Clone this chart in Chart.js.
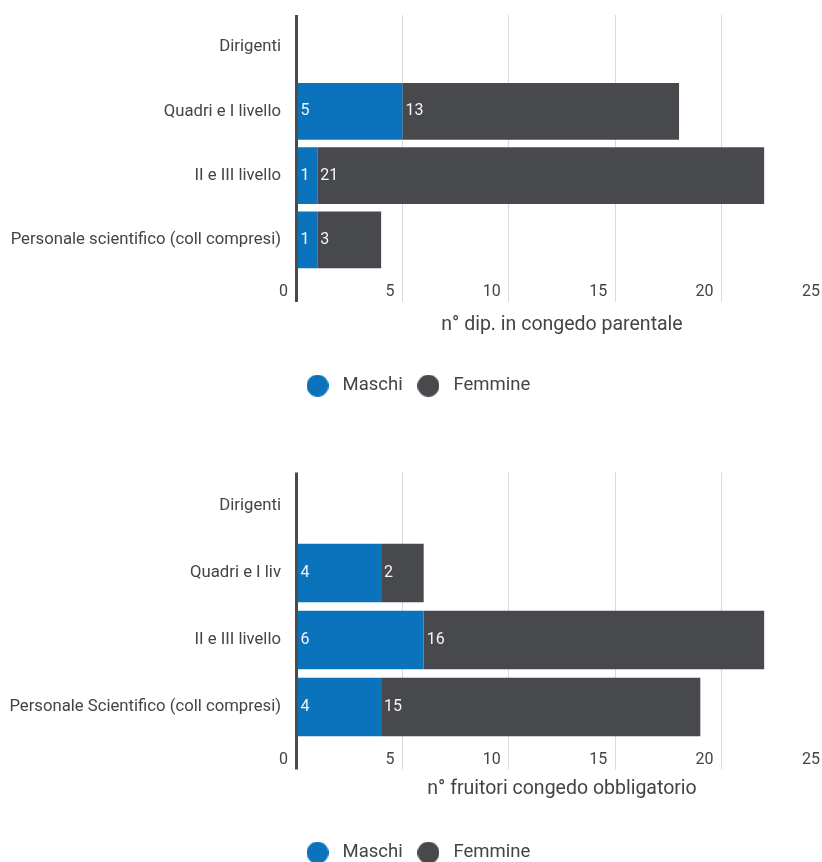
<!DOCTYPE html>
<html><head><meta charset="utf-8">
<script src="https://cdn.jsdelivr.net/npm/chart.js@4/dist/chart.umd.min.js"></script>
<style>
html,body{margin:0;padding:0;background:#fff;overflow:hidden;}
#wrap{position:relative;width:822px;height:862px;overflow:hidden;background:#fff;}
canvas{position:absolute;left:0;}
#c1{top:0;}
#c2{top:460px;}
</style></head><body>
<div id="wrap"><canvas id="c1"></canvas><canvas id="c2"></canvas></div>
<script>
// ---- data ----
const categories1 = ['Dirigenti', 'Quadri e I livello', 'II e III livello', 'Personale scientifico (coll compresi)'];
const maschi1 = [0, 5, 1, 1];
const femmine1 = [0, 13, 21, 3];
const categories2 = ['Dirigenti', 'Quadri e I liv', 'II e III livello', 'Personale Scientifico (coll compresi)'];
const maschi2 = [0, 4, 6, 4];
const femmine2 = [0, 2, 16, 15];
const seriesNames = ['Maschi', 'Femmine'];
const axisTitle1 = 'n° dip. in congedo parentale';
const axisTitle2 = 'n° fruitori congedo obbligatorio';
const xMin = 0, xMax = 25, xStep = 5;

// ---- styles ----
const BLUE = '#0a73bc';
const DARK = '#48494d';
const TEXT = '#444444';
Chart.defaults.font.family = 'Roboto';

function dot(color) {
  const c = document.createElement('canvas');
  c.width = 22; c.height = 22;
  const g = c.getContext('2d');
  g.fillStyle = color;
  g.beginPath(); g.arc(11, 11, 11, 0, Math.PI * 2); g.fill();
  return c;
}
const dots = [dot(BLUE), dot(DARK)];

const valueLabels = {
  id: 'valueLabels',
  afterDatasetsDraw(chart) {
    const ctx = chart.ctx;
    ctx.save();
    ctx.font = '16px Roboto';
    ctx.fillStyle = '#f4f4f4';
    ctx.textBaseline = 'middle';
    ctx.textAlign = 'left';
    chart.data.datasets.forEach((ds, di) => {
      const meta = chart.getDatasetMeta(di);
      meta.data.forEach((el, i) => {
        const v = ds.data[i];
        if (!v) return;
        const p = el.getProps(['x', 'y', 'base'], true);
        ctx.fillText(String(v), Math.min(p.x, p.base) + 3, p.y);
      });
    });
    ctx.restore();
  }
};

function makeChart(id, cats, m, f, title, cfg) {
  const cv = document.getElementById(id);
  cv.width = 840; cv.height = cfg.H;
  cv.style.width = '840px'; cv.style.height = cfg.H + 'px';
  return new Chart(cv, {
    type: 'bar',
    data: {
      labels: cats,
      datasets: [
        { label: seriesNames[0], data: m, backgroundColor: BLUE, borderWidth: 0 },
        { label: seriesNames[1], data: f, backgroundColor: DARK, borderWidth: 0 }
      ]
    },
    options: {
      indexAxis: 'y',
      responsive: false,
      devicePixelRatio: 1,
      animation: false,
      barPercentage: cfg.barPct,
      categoryPercentage: 1,
      layout: { padding: { top: cfg.Pt, right: 12, bottom: 0, left: 4 } },
      scales: {
        x: {
          stacked: true,
          min: xMin, max: xMax,
          afterFit(s) { s.height = cfg.axisH; },
          ticks: {
            stepSize: xStep, maxRotation: 0, autoSkip: false,
            align: 'end', labelOffset: -8, padding: cfg.tickPad,
            color: TEXT, font: { size: 16 }
          },
          grid: {
            color: c => (c.tick && c.tick.value === 0) ? '#4a4a4a' : '#dadada',
            lineWidth: c => (c.tick && c.tick.value === 0) ? 3 : 1,
            tickLength: cfg.tickLen,
            drawTicks: true
          },
          border: { display: false },
          title: {
            display: true, text: title, color: TEXT,
            font: { size: 19.5 },
            padding: { top: 0, bottom: cfg.titlePb }
          }
        },
        y: {
          stacked: true,
          afterFit(s) { s.width = 292; s.paddingTop = 0; s.paddingBottom = 0; },
          ticks: { padding: 15, color: TEXT, font: { size: 16.7 } },
          grid: { display: false, drawTicks: false },
          border: { display: false }
        }
      },
      plugins: {
        tooltip: { enabled: false },
        legend: {
          position: 'bottom',
          labels: {
            usePointStyle: true,
            pointStyleWidth: 31.5,
            padding: 10,
            color: TEXT,
            font: { size: 18.5 },
            generateLabels(chart) {
              const items = Chart.defaults.plugins.legend.labels.generateLabels(chart);
              items.forEach((it, i) => { it.pointStyle = dots[i]; });
              return items;
            }
          }
        }
      }
    },
    plugins: [valueLabels]
  });
}

makeChart('c1', categories1, maschi1, femmine1, axisTitle1,
  { H: 405, Pt: 15, axisH: 94.5, tickLen: 30, tickPad: -19.9, titlePb: 29.8, barPct: 0.884 });
makeChart('c2', categories2, maschi2, femmine2, axisTitle2,
  { H: 412, Pt: 12.5, axisH: 93, tickLen: 29, tickPad: -19.1, titlePb: 32.3, barPct: 0.872 });
</script>
</body></html>
